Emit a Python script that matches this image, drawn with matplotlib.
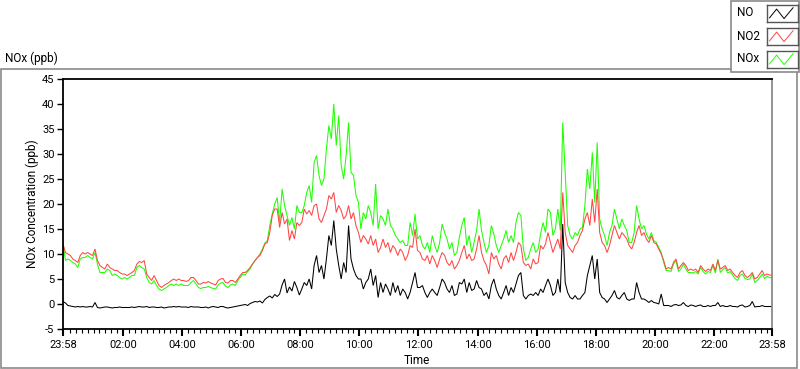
import datetime as dt

import numpy as np
import matplotlib
matplotlib.use('Agg')
import matplotlib.pyplot as plt
import matplotlib.dates as mdates
from matplotlib.patches import Rectangle


# ---------------------------------------------------------------------------
# Data: 5-minute readings (ppb), 23:58 -> 23:58
# ---------------------------------------------------------------------------

START = dt.datetime(2000, 1, 1, 23, 58)
STEP_MIN = 5

NO_PPB = [
    0.5, 0.2, -0.3, -0.4, -0.5, -0.6, -0.5, -0.6, -0.5, -0.6,
    -0.6, -0.5, -0.6, 0.3, -0.7, -0.8, -0.7, -0.6, -0.6, -0.7,
    -0.8, -0.7, -0.7, -0.6, -0.7, -0.7, -0.7, -0.7, -0.6, -0.7,
    -0.6, -0.5, -0.6, -0.6, -0.5, -0.7, -0.6, -0.6, -0.7, -0.7,
    -0.6, -0.8, -0.7, -0.6, -0.6, -0.5, -0.6, -0.5, -0.6,
    -0.6, -0.6, -0.7, -0.5, -0.6, -0.6, -0.6, -0.7, -0.7, -0.6,
    -0.8, -0.6, -0.5, -0.6, -0.7, -0.5, -0.5, -0.7, -0.8, -0.7,
    -0.6, -0.5, -0.4, -0.3, -0.2, -0.1, -0.3, 0.1, 0.3, 0.5,
    0.4, 0.6, 0.2, 0.9, 1.3, 1.6, 1.2, 1.9, 1.5, 2.0,
    3.8, 5.0, 2.2, 3.4, 2.6, 4.5, 3.3, 1.8,
    3.0, 4.3, 3.7, 5.0, 3.0, 7.7, 9.7, 6.3, 7.7, 5.0,
    9.0, 13.7, 11.7, 16.7, 11.0, 7.7, 5.0, 8.3, 6.3, 15.7,
    9.0, 7.0, 5.7, 5.0, 5.0, 3.0, 4.3, 5.0, 7.0, 3.7,
    5.7, 1.3, 4.3, 2.3, 4.0, 3.0, 1.7, 4.3, 2.3, 3.7,
    1.7, 3.0, 2.3, 1.0, 2.3, 4.3, 6.3, 3.3,
    3.3, 3.7, 2.3, 1.3, 2.3, 3.0, 2.3, 1.7, 3.3, 5.0,
    4.3, 3.0, 2.3, 3.7, 1.7, 2.0, 4.3, 4.0, 5.0, 2.3,
    4.3, 2.7, 3.0, 4.7, 3.3, 3.0, 1.7, 2.3, 1.0, 3.7,
    5.0, 3.0, 1.7, 1.0, 2.3, 3.7, 1.7, 3.3, 2.3, 4.0,
    5.7, 6.3, 1.7, 1.0, 1.7, 2.0, 1.7, 2.3,
    1.7, 3.0, 2.3, 3.7, 5.0, 3.7, 1.7, 2.3, 5.0, 2.3,
    16.0, 4.3, 2.3, 1.3, 1.0, 1.7, 1.0, 1.0, 1.7, 2.3,
    5.7, 7.7, 9.7, 5.0, 9.0, 2.3, 1.3, 1.0, 0.3, 1.0,
    1.7, 2.7, 1.3, 1.0, 1.7, 2.3, 1.0, 0.7, 1.0, 1.0,
    4.3, 2.3, 1.0, 1.0, 0.7, 0.3, 0.7, 0.3,
    0.2, 0.0, 2.0, -0.3, -0.3, -0.3, -0.5, -0.2, -0.1, -0.3,
    -0.2, 0.3, -0.3, -0.5, -0.2, -0.3, -0.5, -0.3, -0.2, -0.5,
    -0.5, -0.3, -0.5, -0.3, -0.3, 0.3, -0.5, -0.3, -0.5, -0.5,
    -0.3, -0.5, -0.5, -0.6, -0.3, -0.2, -0.6, -0.5, -0.3, 0.5,
    -0.6, -0.5, -0.5, -0.3, -0.5, -0.5, -0.5, -0.5,
]

NO2_PPB = [
    12.0, 10.3, 10.0, 9.7, 9.0, 8.7, 8.3, 9.7, 10.3, 10.0,
    10.3, 10.0, 9.7, 11.0, 8.7, 7.7, 7.3, 7.0, 8.0, 7.3,
    7.0, 6.7, 6.7, 6.3, 6.0, 6.0, 5.7, 6.0, 6.3, 6.7,
    8.0, 8.5, 8.3, 8.7, 6.0, 5.3, 4.7, 5.7, 4.7, 3.7,
    3.3, 3.7, 4.0, 4.3, 4.7, 5.0, 4.7, 5.0, 4.7,
    4.7, 4.5, 4.7, 5.3, 5.3, 4.7, 4.0, 4.0, 4.3, 4.2,
    4.5, 4.2, 4.0, 3.8, 4.7, 5.0, 5.1, 4.3, 4.2, 4.7,
    4.7, 4.3, 5.0, 5.7, 6.3, 6.3, 6.7, 7.3, 8.0, 8.7,
    9.3, 9.7, 10.7, 12.0, 12.3, 14.3, 17.7, 19.0, 19.0, 15.3,
    18.3, 16.0, 17.0, 12.7, 14.7, 13.0, 16.3, 15.7,
    16.3, 19.0, 18.0, 18.7, 17.7, 19.7, 20.0, 17.0, 16.3, 17.7,
    19.0, 21.7, 21.0, 22.3, 18.3, 19.7, 18.7, 17.0, 17.7, 19.7,
    17.0, 18.3, 15.7, 14.3, 12.3, 13.7, 13.0, 12.0, 13.7, 11.7,
    13.0, 10.3, 11.3, 13.0, 11.3, 12.3, 10.3, 11.7, 11.0, 9.7,
    11.0, 10.3, 8.7, 9.7, 11.7, 11.3, 15.0, 10.7,
    10.3, 9.0, 8.7, 9.7, 8.0, 9.7, 8.7, 7.3, 9.0, 10.3,
    9.7, 8.3, 7.7, 8.7, 7.0, 7.7, 8.7, 10.3, 11.7, 9.0,
    10.0, 8.7, 9.0, 11.0, 13.7, 10.3, 8.7, 7.7, 6.0, 10.3,
    9.0, 9.7, 8.0, 7.0, 9.0, 9.7, 8.3, 10.3, 8.7, 10.3,
    12.3, 11.7, 8.3, 7.7, 8.0, 7.0, 9.0, 8.0,
    8.3, 11.7, 11.0, 12.0, 14.3, 12.3, 10.3, 11.7, 13.0, 11.0,
    22.3, 14.3, 11.7, 11.0, 10.3, 11.7, 12.3, 13.7, 14.7, 17.0,
    18.3, 15.7, 21.0, 16.3, 23.0, 14.3, 12.3, 11.7, 10.3, 11.7,
    13.7, 15.7, 14.3, 13.0, 14.3, 13.7, 13.0, 11.7, 11.0, 12.3,
    14.3, 15.7, 13.7, 14.3, 13.0, 12.3, 13.7, 12.3,
    12.0, 11.0, 10.0, 8.7, 7.0, 7.3, 7.0, 8.3, 9.0, 7.0,
    7.7, 8.3, 7.7, 6.7, 7.0, 6.7, 7.0, 6.3, 7.7, 7.0,
    6.5, 7.0, 6.7, 8.0, 6.7, 8.7, 7.0, 7.3, 7.7, 6.7,
    7.0, 6.3, 5.7, 5.3, 6.3, 6.7, 5.7, 5.3, 5.7, 6.3,
    5.0, 5.3, 6.0, 6.7, 5.7, 6.0, 5.8, 5.7,
]

NOX_PPB = [
    12.2, 8.7, 9.0, 8.7, 8.3, 8.0, 7.3, 9.0, 9.3, 9.3,
    9.7, 9.3, 9.0, 10.3, 8.0, 6.3, 6.3, 6.3, 7.0, 6.7,
    5.7, 6.0, 5.7, 5.3, 5.0, 5.3, 5.0, 5.3, 5.7, 5.7,
    7.3, 7.7, 7.3, 7.0, 5.3, 4.3, 4.0, 4.7, 3.7, 3.0,
    2.7, 3.0, 3.3, 3.7, 4.0, 3.7, 4.0, 3.7, 4.0,
    3.7, 3.7, 3.7, 4.3, 4.7, 4.0, 3.3, 3.1, 3.3, 3.3,
    3.5, 3.3, 3.1, 3.0, 3.8, 4.2, 4.3, 3.5, 3.3, 3.8,
    4.0, 3.7, 4.7, 5.3, 6.0, 5.8, 6.5, 7.0, 8.0, 8.7,
    9.3, 10.0, 11.0, 12.2, 12.7, 15.7, 18.0, 20.0, 21.3, 16.3,
    23.0, 19.7, 17.7, 15.7, 17.3, 15.0, 19.7, 18.3,
    18.3, 19.7, 22.3, 23.7, 20.3, 28.3, 29.7, 25.7, 23.7, 25.0,
    31.0, 35.7, 33.0, 40.0, 31.7, 37.7, 27.7, 25.0, 29.7, 36.3,
    26.3, 25.7, 21.7, 20.3, 15.0, 18.3, 17.0, 19.7, 18.3, 15.7,
    24.0, 15.0, 17.7, 17.0, 15.7, 19.0, 15.7, 15.0, 13.7, 13.0,
    12.3, 12.7, 11.7, 11.7, 16.3, 13.7, 18.0, 13.0,
    13.7, 11.7, 11.0, 12.3, 10.3, 13.7, 11.7, 10.3, 12.3, 16.0,
    14.3, 13.0, 11.0, 12.3, 9.7, 10.3, 13.3, 15.7, 17.3, 11.7,
    13.7, 10.3, 12.3, 14.7, 19.0, 14.7, 12.3, 10.3, 11.7, 15.7,
    14.0, 11.7, 10.3, 11.7, 13.0, 14.7, 12.3, 13.7, 12.3, 16.3,
    18.3, 17.7, 11.0, 8.7, 9.3, 11.0, 12.3, 10.3,
    11.0, 14.0, 16.3, 14.3, 19.0, 18.3, 13.7, 15.0, 19.0, 14.7,
    36.3, 26.3, 15.7, 13.7, 13.0, 14.3, 13.7, 15.0, 15.3, 19.7,
    27.0, 23.0, 30.3, 20.3, 32.3, 17.0, 15.0, 13.7, 11.7, 14.3,
    15.7, 19.0, 17.0, 15.0, 17.0, 15.7, 14.7, 12.3, 12.3, 14.3,
    19.7, 17.0, 15.0, 15.7, 14.0, 13.0, 14.3, 12.7,
    12.3, 11.3, 10.3, 8.3, 6.7, 6.7, 6.5, 8.0, 8.7, 6.5,
    7.0, 8.0, 7.0, 6.3, 6.3, 6.2, 6.5, 6.0, 7.3, 6.5,
    6.0, 6.5, 6.3, 7.7, 6.2, 9.0, 6.3, 6.9, 7.3, 6.2,
    6.5, 5.8, 5.1, 4.7, 5.7, 6.0, 5.1, 4.9, 5.0, 6.0,
    4.3, 4.7, 5.3, 6.0, 5.1, 5.5, 5.3, 5.2,
]

SERIES_NAMES = ['NO', 'NO2', 'NOx']
SERIES_COLORS = ['#000000', '#ff4646', '#1eff00']

X_TICK_LABELS = ['23:58', '02:00', '04:00', '06:00', '08:00', '10:00', '12:00',
                 '14:00', '16:00', '18:00', '20:00', '22:00', '23:58']
Y_TICKS = list(range(-5, 50, 5))

FONT = 'Roboto'
plt.rcParams['font.family'] = [FONT, 'DejaVu Sans']


def tick_time(label, i):
    """Datetime for a HH:MM tick label (first one is the start, last the end)."""
    h, m = map(int, label.split(':'))
    if i == 0:
        return START
    return dt.datetime(2000, 1, 2, h, m)


def main():
    times = [START + dt.timedelta(minutes=STEP_MIN * i) for i in range(len(NO_PPB))]

    W, H = 800, 369
    fig = plt.figure(figsize=(W / 100, H / 100), dpi=100)
    fig.patch.set_facecolor('white')

    # outer LabVIEW-style frame
    fig.patches.append(Rectangle((1 / W, 1 / H), 796 / W, 299 / H, transform=fig.transFigure,
                                 fill=False, edgecolor='#8a8a8a', linewidth=1.2))
    fig.text(5 / W, 1 - 58 / H, 'NOx (ppb)', fontsize=8.5, ha='left', va='center')

    ax = fig.add_axes([63 / W, 1 - 329 / H, 709 / W, 250 / H])

    series = [NO_PPB, NO2_PPB, NOX_PPB]
    # draw order: NOx under NO2 under NO
    for idx in (2, 1, 0):
        ax.plot(times, series[idx], color=SERIES_COLORS[idx], linewidth=0.75,
                solid_joinstyle='miter')

    ax.set_ylim(-5, 45)
    ax.set_xlim(times[0], times[-1])
    ax.set_yticks(Y_TICKS)
    ax.set_yticklabels([str(v) for v in Y_TICKS])

    major = [mdates.date2num(tick_time(lb, i)) for i, lb in enumerate(X_TICK_LABELS)]
    major[-1] = mdates.date2num(times[-1])
    ax.set_xticks(major)
    ax.set_xticklabels(X_TICK_LABELS)
    step = 12 / (24 * 60)
    minor = np.arange(major[1] - 10 * step, major[-1], step)
    minor = [m for m in minor if major[0] < m < major[-1] and
             min(abs(m - mj) for mj in major) > step / 3]
    ax.set_xticks(minor, minor=True)

    ax.tick_params(axis='y', direction='out', length=4, width=1, pad=2, labelsize=8)
    ax.tick_params(axis='x', which='major', direction='out', length=5, width=1.5, pad=3,
                   labelsize=8)
    ax.tick_params(axis='x', which='minor', direction='out', length=3, width=0.8)

    for side in ('left', 'top', 'bottom'):
        ax.spines[side].set_color('black')
        ax.spines[side].set_linewidth(1.3)
    ax.spines['right'].set_color('#8a8a8a')
    ax.spines['right'].set_linewidth(1.3)

    fig.text(32 / W, 1 - 204 / H, 'NOx Concentration (ppb)', rotation=90,
             fontsize=8.5, ha='center', va='center')
    fig.text(417 / W, 1 - 361 / H, 'Time', fontsize=8.5, ha='center', va='center')

    # legend panel in the top-right corner
    fig.patches.append(Rectangle((731 / W, 1 - 72 / H), 68 / W, 71.5 / H,
                                 transform=fig.transFigure, fill=True, facecolor='white',
                                 edgecolor='#8a8a8a', linewidth=1.2, zorder=5))
    glyph_x = [0.08, 0.31, 0.55, 0.84]
    glyph_y = [0.24, 0.76, 0.20, 0.84]
    for k, (name, col) in enumerate(zip(SERIES_NAMES, SERIES_COLORS)):
        yc = 13 + 23 * k
        fig.text(737 / W, 1 - yc / H, name, fontsize=8.5, ha='left', va='center', zorder=6)
        sw = fig.add_axes([767 / W, 1 - (yc + 9) / H, 31 / W, 17 / H])
        sw.set_zorder(10)
        sw.plot(glyph_x, glyph_y, color=col, linewidth=0.7)
        sw.set_xlim(0, 1)
        sw.set_ylim(0, 1)
        sw.set_xticks([])
        sw.set_yticks([])
        for sp in sw.spines.values():
            sp.set_color('#555555')
            sp.set_linewidth(1.0)

    fig.savefig('out.png', dpi=100)


if __name__ == '__main__':
    main()
